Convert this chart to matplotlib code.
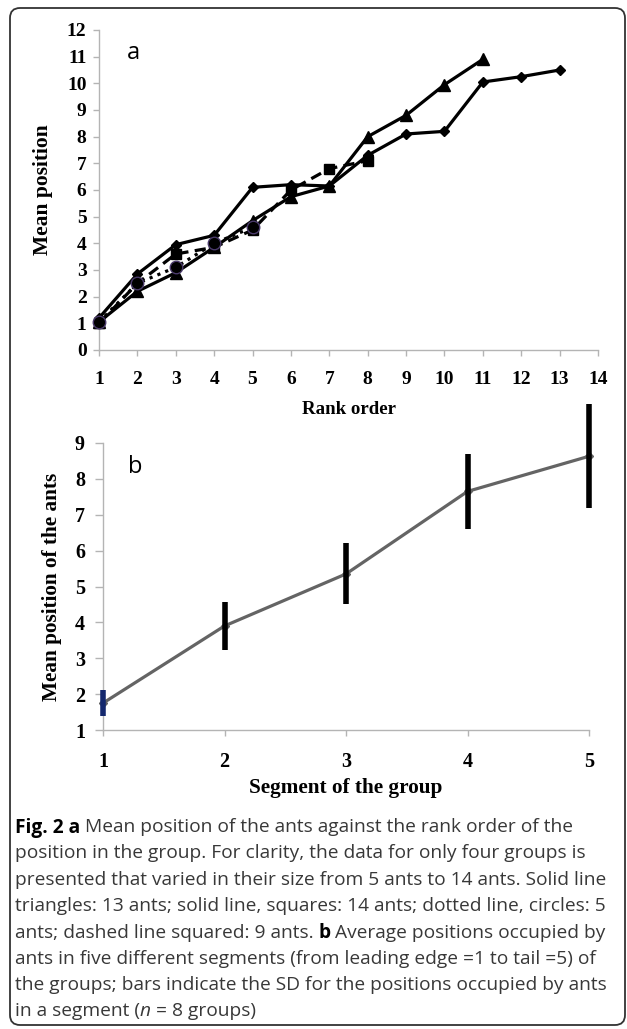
import matplotlib
matplotlib.use('Agg')
import matplotlib.pyplot as plt
from matplotlib.patches import FancyBboxPatch
from matplotlib.transforms import IdentityTransform

# ---------------- data ----------------
rank_diamond = [1, 2, 3, 4, 5, 6, 7, 8, 9, 10, 11, 12, 13]
pos_diamond = [1.2, 2.85, 3.95, 4.3, 6.1, 6.2, 6.15, 7.3, 8.1, 8.2, 10.05, 10.25, 10.5]

rank_triangle = [1, 2, 3, 4, 5, 6, 7, 8, 9, 10, 11]
pos_triangle = [1.05, 2.2, 2.9, 3.85, 4.85, 5.75, 6.15, 8.0, 8.8, 9.95, 10.9]

rank_square = [1, 2, 3, 4, 5, 6, 7, 8]
pos_square = [1.0, 2.5, 3.6, 3.85, 4.5, 6.0, 6.8, 7.1]

rank_circle = [1, 2, 3, 4, 5]
pos_circle = [1.05, 2.5, 3.1, 4.0, 4.6]

segments = [1, 2, 3, 4, 5]
seg_mean = [1.75, 3.9, 5.35, 7.65, 8.63]
seg_sd = [0.37, 0.68, 0.85, 1.05, 1.45]

xticks_a = list(range(1, 15))
yticks_a = list(range(0, 13))
yticks_b = list(range(1, 10))

caption_lines = [
    [("Fig. 2 a", "bold", "normal"), (" Mean position of the ants against the rank order of the", "normal", "normal")],
    [("position in the group. For clarity, the data for only four groups is", "normal", "normal")],
    [("presented that varied in their size from 5 ants to 14 ants. Solid line", "normal", "normal")],
    [("triangles: 13 ants; solid line, squares: 14 ants; dotted line, circles: 5", "normal", "normal")],
    [("ants; dashed line squared: 9 ants.", "normal", "normal"), (" b", "bold", "normal"),
     (" Average positions occupied by", "normal", "normal")],
    [("ants in five different segments (from leading edge =1 to tail =5) of", "normal", "normal")],
    [("the groups; bars indicate the SD for the positions occupied by ants", "normal", "normal")],
    [("in a segment (", "normal", "normal"), ("n", "normal", "italic"), (" = 8 groups)", "normal", "normal")],
]

# ---------------- figure ----------------
W, H = 627, 1029
fig = plt.figure(figsize=(W / 100, H / 100), dpi=100)
fig.patch.set_facecolor('white')

SERIF = 'Liberation Serif'
SANS = 'Open Sans'
AXIS_GRAY = '#b4b4b4'


def px(x, y):
    return x / W, 1 - y / H


def style_axes(ax, fs):
    for s in ['top', 'right']:
        ax.spines[s].set_visible(False)
    for s in ['left', 'bottom']:
        ax.spines[s].set_color(AXIS_GRAY)
        ax.spines[s].set_linewidth(1.0)
    ax.tick_params(axis='both', direction='out', color=AXIS_GRAY, width=1.0,
                   labelcolor='black')
    for lab in ax.get_xticklabels() + ax.get_yticklabels():
        lab.set_fontfamily(SERIF)
        lab.set_fontweight('bold')
        lab.set_fontsize(fs)


# ---- panel a ----
ax1 = fig.add_axes([99 / W, 1 - 350 / H, 499 / W, 320 / H])
ax1.plot(rank_diamond, pos_diamond, '-', color='black', lw=2.3, marker='D', ms=5.5,
         clip_on=False, zorder=3)
ax1.plot(rank_triangle, pos_triangle, '-', color='black', lw=2.3, marker='^', ms=8.5,
         clip_on=False, zorder=3)
ax1.plot(rank_square, pos_square, '--', color='black', lw=2.3, marker='s', ms=7.5,
         dashes=(3.5, 2), clip_on=False, zorder=3)
ax1.plot(rank_circle, pos_circle, ':', color='black', lw=2.3, marker='o', ms=9,
         mec='#4a3a6a', mew=1.0, clip_on=False, zorder=4)
ax1.set_xlim(1, 14)
ax1.set_ylim(0, 12)
ax1.set_xticks(xticks_a)
ax1.set_yticks(yticks_a)
style_axes(ax1, 14)
ax1.tick_params(axis='x', length=4, pad=11)
ax1.tick_params(axis='y', length=4, pad=5)

fig.text(*px(133, 53), 'a', fontsize=17, family=SANS, ha='center', va='center')
fig.text(*px(349, 410), 'Rank order', fontsize=13.6, family=SERIF, fontweight='bold',
         ha='center', va='center')
fig.text(*px(43, 190), 'Mean position', fontsize=15.5, family=SERIF, fontweight='bold',
         ha='center', va='center', rotation=90)

# ---- panel b ----
ax2 = fig.add_axes([103 / W, 1 - 730 / H, 486 / W, 287 / H])
ax2.plot(segments, seg_mean, '-', color='#646464', lw=2.3, marker='D', ms=4,
         mfc='#646464', mec='#646464', clip_on=False, zorder=2)
eb = ax2.errorbar(segments, seg_mean, yerr=seg_sd, fmt='none', elinewidth=4,
                  capsize=0, ecolor='black', zorder=3)
eb[2][0].set_colors(['#14286e', 'black', 'black', 'black', 'black'])
eb[2][0].set_clip_on(False)
ax2.set_xlim(1, 5)
ax2.set_ylim(1, 9)
ax2.set_xticks(segments)
ax2.set_yticks(yticks_b)
style_axes(ax2, 14.5)
ax2.tick_params(axis='x', length=4, pad=12)
ax2.tick_params(axis='y', length=6, pad=7)

fig.text(*px(135, 467), 'b', fontsize=17, family=SANS, ha='center', va='center')
fig.text(*px(346, 788), 'Segment of the group', fontsize=15.3, family=SERIF,
         fontweight='bold', ha='center', va='center')
fig.text(*px(52, 587), 'Mean position of the ants', fontsize=15.3, family=SERIF,
         fontweight='bold', ha='center', va='center', rotation=90)

# ---- caption ----
CAP_FS = 13.8
renderer = fig.canvas.get_renderer()


def text_width(s, weight, style):
    t = fig.text(0, 0, 'x' + s + 'x', fontsize=CAP_FS, family=SANS, fontweight=weight,
                 style=style)
    t2 = fig.text(0, 0, 'xx', fontsize=CAP_FS, family=SANS, fontweight=weight, style=style)
    w = t.get_window_extent(renderer).width - t2.get_window_extent(renderer).width
    t.remove()
    t2.remove()
    return w


line_y = [825, 851.5, 877.8, 904, 930.5, 956.7, 983, 1009]
for pieces, yc in zip(caption_lines, line_y):
    x = 15.0
    for s, weight, style in pieces:
        color = 'black' if weight == 'bold' else '#383838'
        fig.text(*px(x, yc), s, fontsize=CAP_FS, family=SANS, fontweight=weight,
                 style=style, color=color, ha='left', va='center_baseline')
        x += text_width(s, weight, style)

# ---- rounded frame ----
frame = FancyBboxPatch((10, 4), 615, 1017, boxstyle='round,pad=0,rounding_size=10',
                       transform=IdentityTransform(), fill=False, edgecolor='#333333',
                       linewidth=1.3)
fig.add_artist(frame)

fig.savefig('out.png', dpi=100)
